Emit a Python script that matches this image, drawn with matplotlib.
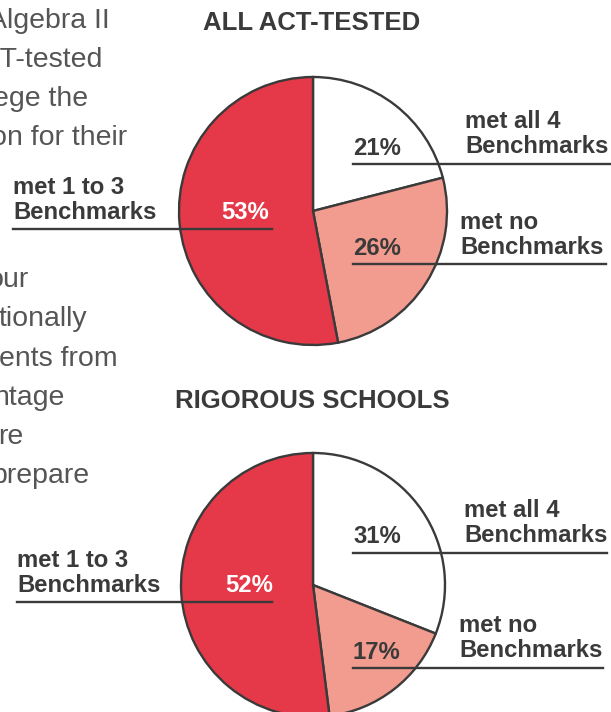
import matplotlib
matplotlib.use('Agg')
import matplotlib.pyplot as plt

plt.rcParams['font.family'] = ['Liberation Sans', 'DejaVu Sans']

# Chart data
groupNames = ['ALL ACT-TESTED', 'RIGOROUS SCHOOLS']
categories = ['met all 4', 'met no', 'met 1 to 3']
allTested = [21, 26, 53]
rigorous = [31, 17, 52]
sliceColors = ['#ffffff', '#f29b8f', '#e53848']

# Body text fragments cut off on the left side of the page
bodyLines = ['Algebra II', 'CT-tested', 'ege the', 'on for their',
             'our', 'tionally', 'ents from', 'ntage', 're', 'prepare']
bodyRight = [110, 103, 88, 127, 29, 87, 118, 64, 23, 89]
bodyBase = [28, 67, 106, 145, 287, 326, 366, 405, 444, 483]

dark = '#3a3a3a'

fig = plt.figure(figsize=(6.11, 7.12), dpi=100)
ax = fig.add_axes([0, 0, 1, 1])


def bold(x, y, s, color=dark, size=17.2):
    ax.text(x, y, s, ha='left', va='baseline', fontsize=size,
            fontweight='bold', color=color)


def draw_pie(values, title, cx, cy, r, titleY, rows, leftX):
    ax.pie(values, colors=sliceColors, center=(cx, cy), radius=r,
           startangle=-90, counterclock=True,
           wedgeprops=dict(edgecolor=dark, linewidth=1.7))
    ax.text(cx - 1, titleY, title, ha='center', va='baseline', fontsize=18.5,
            fontweight='bold', color=dark)

    # rows: (name x, name baseline, pct baseline, line y, line end) per slice
    for i in range(2):
        nx, nb, pb, ly, lend = rows[i]
        bold(nx, nb - 25, categories[i])
        bold(nx, nb, 'Benchmarks')
        bold(353, pb, str(values[i]) + '%')
        ax.plot([353, lend], [ly, ly], color=dark, lw=1.7)

    # left label for the biggest slice
    nb, ly = rows[2]
    bold(leftX, nb - 25, categories[2])
    bold(leftX, nb, 'Benchmarks')
    bold(leftX + 208, nb, str(values[2]) + '%', color='white')
    ax.plot([leftX, 272], [ly, ly], color=dark, lw=1.7)


# Top pie
draw_pie(allTested, groupNames[0], 313, 211, 134, 30,
         [(465, 153, 155, 164, 610), (460, 254, 255, 264, 606), (219, 229)], 13)

# Bottom pie
draw_pie(rigorous, groupNames[1], 313, 585, 132, 408,
         [(464, 542, 543, 553, 607), (459, 657, 659, 668, 603), (592, 602)], 17)

# Body text
for i, line in enumerate(bodyLines):
    ax.text(bodyRight[i], bodyBase[i], line, ha='right', va='baseline',
            fontsize=20.5, color='#555555')

ax.set_xlim(0, 611)
ax.set_ylim(712, 0)
ax.set_aspect('equal')
ax.axis('off')

fig.savefig('out.png', dpi=100)
